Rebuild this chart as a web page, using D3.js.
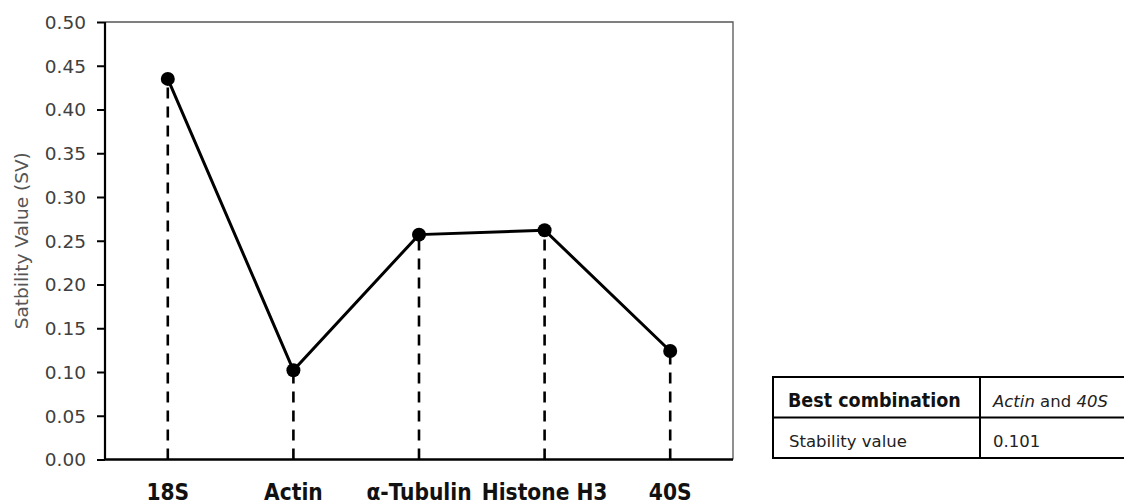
<!DOCTYPE html>
<html>
<head>
<meta charset="utf-8">
<script src="https://cdn.jsdelivr.net/npm/d3@7"></script>
<style>
  html, body { margin: 0; padding: 0; background: #fff; }
  svg { display: block; }
  .tick-label { font-family: "DejaVu Sans", sans-serif; font-size: 18.5px; fill: #404040; }
  .y-title { font-family: "DejaVu Sans", sans-serif; font-size: 18.5px; fill: #555; }
  .cat-label { font-family: "DejaVu Sans Condensed", "DejaVu Sans", sans-serif; font-weight: bold; font-size: 22.5px; fill: #111; }
  .tbl { font-family: "DejaVu Sans", sans-serif; font-size: 16.5px; fill: #222; }
  .tbl-head { font-family: "DejaVu Sans Condensed", "DejaVu Sans", sans-serif; font-weight: bold; font-size: 19.5px; fill: #111; }
</style>
</head>
<body>
<div id="chart"></div>
<script>
// Reference genes and their stability values (SV).
const genes = ["18S", "Actin", "\u03B1-Tubulin", "Histone H3", "40S"];
const stability = [0.435, 0.102, 0.257, 0.262, 0.124];
const yTicks = [0, 0.05, 0.10, 0.15, 0.20, 0.25, 0.30, 0.35, 0.40, 0.45, 0.50];

// Summary table on the right.
const tableRows = [
  ["Best combination", "Actin and 40S"],
  ["Stability value", "0.101"]
];

const width = 1124, height = 504;
const m = { top: 22, right: 391, bottom: 44.5, left: 105 };
const iW = width - m.left - m.right, iH = height - m.top - m.bottom;

const svg = d3.select("#chart").append("svg")
  .attr("width", width).attr("height", height);
const g = svg.append("g").attr("transform", `translate(${m.left},${m.top})`);

const x = d3.scalePoint(genes, [0, iW]).padding(0.5);
const y = d3.scaleLinear([0, 0.5], [iH, 0]);

// Plot frame: thin grey top/right, heavy black left/bottom axes.
g.append("path")
  .attr("d", `M0,0H${iW}V${iH}`)
  .attr("fill", "none").attr("stroke", "#555").attr("stroke-width", 1.3);

// y axis
const yAxis = g.append("g").call(d3.axisLeft(y).tickValues(yTicks).tickSize(8).tickFormat(d3.format(".2f")));
yAxis.attr("font-size", null).attr("font-family", null);
yAxis.select(".domain").attr("stroke", "#000").attr("stroke-width", 2.2).attr("d", `M0,0V${iH}`);
yAxis.selectAll(".tick line").attr("stroke", "#000").attr("stroke-width", 2);
yAxis.selectAll(".tick text").attr("class", "tick-label").attr("x", -19).attr("dy", "0.35em")
  .attr("fill", null);

// x axis line and category labels
g.append("line").attr("x1", -1).attr("x2", iW).attr("y1", iH).attr("y2", iH)
  .attr("stroke", "#000").attr("stroke-width", 2.6);
g.append("g").selectAll("text").data(genes).join("text")
  .attr("class", "cat-label")
  .attr("x", (d) => x(d)).attr("y", iH + 40)
  .attr("text-anchor", "middle")
  .text((d) => d);

g.append("text").attr("class", "y-title").attr("text-anchor", "middle")
  .attr("transform", `translate(${-77},${iH / 2}) rotate(-90)`)
  .text("Satbility Value (SV)");

const pts = genes.map((k, i) => ({ k, v: stability[i] }));

// dashed drop lines
g.append("g").selectAll("line").data(pts).join("line")
  .attr("x1", (d) => x(d.k)).attr("x2", (d) => x(d.k))
  .attr("y1", iH).attr("y2", (d) => y(d.v))
  .attr("stroke", "#000").attr("stroke-width", 2.6).attr("stroke-dasharray", "11,8");

g.append("path").datum(pts)
  .attr("d", d3.line().x((d) => x(d.k)).y((d) => y(d.v)))
  .attr("fill", "none").attr("stroke", "#000").attr("stroke-width", 3);

g.append("g").selectAll("circle").data(pts).join("circle")
  .attr("cx", (d) => x(d.k)).attr("cy", (d) => y(d.v)).attr("r", 7)
  .attr("fill", "#000");

// table
const tX = 773, tY = 377, rowH = 40.5, col1 = 207;
const t = svg.append("g");
t.append("rect").attr("x", tX).attr("y", tY).attr("width", 400).attr("height", rowH * 2)
  .attr("fill", "none").attr("stroke", "#000").attr("stroke-width", 2);
t.append("line").attr("x1", tX).attr("x2", width + 10).attr("y1", tY + rowH).attr("y2", tY + rowH)
  .attr("stroke", "#000").attr("stroke-width", 2);
t.append("line").attr("x1", tX + col1).attr("x2", tX + col1).attr("y1", tY).attr("y2", tY + rowH * 2)
  .attr("stroke", "#000").attr("stroke-width", 2);

t.append("text").attr("class", "tbl-head").attr("x", tX + 15).attr("y", tY + 30).text(tableRows[0][0]);
const combo = t.append("text").attr("class", "tbl").attr("x", tX + col1 + 13).attr("y", tY + 30);
const parts = tableRows[0][1].split(" and ");
combo.append("tspan").attr("font-style", "italic").text(parts[0]);
combo.append("tspan").text(" and ");
combo.append("tspan").attr("font-style", "italic").text(parts[1]);
t.append("text").attr("class", "tbl").attr("x", tX + 16).attr("y", tY + rowH + 29).text(tableRows[1][0]);
t.append("text").attr("class", "tbl").attr("x", tX + col1 + 13).attr("y", tY + rowH + 29).text(tableRows[1][1]);
</script>
</body>
</html>
